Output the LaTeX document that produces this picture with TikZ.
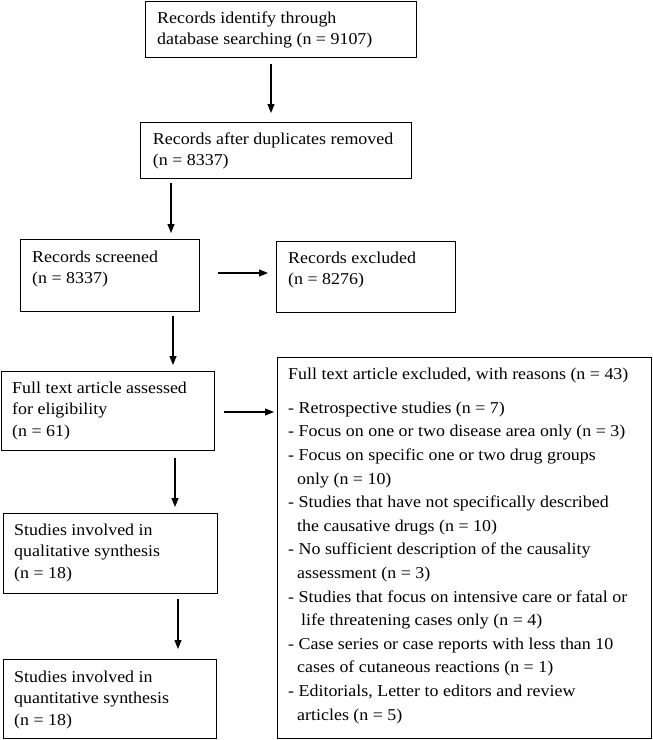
\documentclass[tikz,border=0pt]{standalone}
\usepackage{fontspec}
\setmainfont{Liberation Serif}[FakeStretch=1.08]
\usetikzlibrary{arrows.meta}
\begin{document}
\begin{tikzpicture}[x=1pt,y=-1pt,
  box/.style={draw,line width=1pt,inner sep=0pt,anchor=north west},
  txt/.style={inner sep=0pt,anchor=north west,align=left,font=\fontsize{16.6}{21.7}\selectfont},
  wide/.style={font=\fontsize{16.6}{23.6}\selectfont},
  arr/.style={line width=1.1pt,-{Triangle[length=9pt,width=7pt]}}]
\useasboundingbox (0,0) rectangle (653,740);
% boxes
\node[box,minimum width=271pt,minimum height=56pt] (b1) at (145,1) {};
\node[box,minimum width=271pt,minimum height=56pt] (b2) at (140,122) {};
\node[box,minimum width=179pt,minimum height=72pt] (b3) at (20,239) {};
\node[box,minimum width=179pt,minimum height=71pt] (b4) at (276,241) {};
\node[box,minimum width=213pt,minimum height=79pt] (b5) at (1,371) {};
\node[box,minimum width=374pt,minimum height=381pt] (b6) at (277,357) {};
\node[box,minimum width=214pt,minimum height=80pt] (b7) at (3,513) {};
\node[box,minimum width=213pt,minimum height=79pt] (b8) at (3,659) {};
% texts
\node[txt] (t1) at (157,11) {\rule{0pt}{12pt}Records identify through\\database searching (n = 9107)};
\node[txt] (t2) at (152.7,132) {\rule{0pt}{12pt}Records after duplicates removed\\(n = 8337)};
\node[txt] (t3) at (32,250) {\rule{0pt}{12pt}Records screened\\(n = 8337)};
\node[txt] (t4) at (288,251) {\rule{0pt}{12pt}Records excluded\\(n = 8276)};
\node[txt] (t5) at (12,381) {\rule{0pt}{12pt}Full text article assessed\\for eligibility\\(n = 61)};
\node[txt] (t7) at (14,523) {\rule{0pt}{12pt}Studies involved in\\qualitative synthesis\\(n = 18)};
\node[txt] (t8) at (14,670) {\rule{0pt}{12pt}Studies involved in\\quantitative synthesis\\(n = 18)};
\node[txt,wide] (t6) at (288,367) {\rule{0pt}{12pt}Full text article excluded, with reasons (n = 43)\\[10.4pt]
- Retrospective studies (n = 7)\\
- Focus on one or two disease area only (n = 3)\\
- Focus on specific one or two drug groups\\
\hspace*{9pt}only (n = 10)\\
- Studies that have not specifically described\\
\hspace*{9pt}the causative drugs (n = 10)\\
- No sufficient description of the causality\\
\hspace*{9pt}assessment (n = 3)\\
- Studies that focus on intensive care or fatal or\\
\hspace*{13pt}life threatening cases only (n = 4)\\
- Case series or case reports with less than 10\\
\hspace*{9pt}cases of cutaneous reactions (n = 1)\\
- Editorials, Letter to editors and review\\
\hspace*{9pt}articles (n = 5)};
% arrow guides
\coordinate (x1) at (271,0);
\coordinate (x2) at (171,0);
\coordinate (y3) at (0,273);
\coordinate (x4) at (173,0);
\coordinate (y5) at (0,412);
\coordinate (x6) at (175,0);
\coordinate (x7) at (178,0);
% arrows
\draw[arr,shorten <=6pt,shorten >=9pt] (b1.south -| x1) -- (b2.north -| x1);
\draw[arr,shorten <=4pt,shorten >=6pt] (b2.south -| x2) -- (b3.north -| x2);
\draw[arr,shorten <=18pt,shorten >=8pt] (b3.east |- y3) -- (b4.west |- y3);
\draw[arr,shorten <=4pt,shorten >=6pt] (b3.south -| x4) -- (b5.north -| x4);
\draw[arr,shorten <=9pt,shorten >=3pt] (b5.east |- y5) -- (b6.west |- y5);
\draw[arr,shorten <=7pt,shorten >=6pt] (b5.south -| x6) -- (b7.north -| x6);
\draw[arr,shorten <=5pt,shorten >=10pt] (b7.south -| x7) -- (b8.north -| x7);
\end{tikzpicture}
\end{document}
